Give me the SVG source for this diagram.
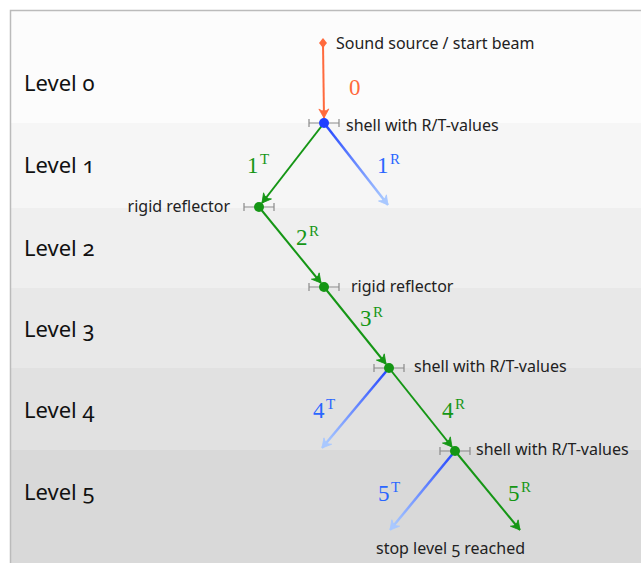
<svg xmlns="http://www.w3.org/2000/svg" width="641" height="563" viewBox="0 0 641 563">
<style>
.lvl{font-family:"Noto Sans","Open Sans",sans-serif;font-size:22px;fill:#111;font-variant-numeric:oldstyle-nums;}
.ann{font-family:"Noto Sans","Open Sans",sans-serif;font-size:16px;fill:#222;font-variant-numeric:oldstyle-nums;}
.num{font-family:"Liberation Serif","DejaVu Serif",serif;font-size:23px;}
.sup{font-family:"Liberation Serif","DejaVu Serif",serif;font-size:15px;}
.g{fill:#159615;}
.b{fill:#2a66ff;}
.o{fill:#ff6a3d;}
.bar{stroke:#8a8a8a;stroke-width:1.2;fill:none;}
.gl{stroke:#159615;stroke-width:2;fill:none;}
</style>
<defs>
<marker id="ag" viewBox="-10 -6 12 12" refX="0" refY="0" markerWidth="12" markerHeight="12" markerUnits="userSpaceOnUse" orient="auto">
<path d="M0,0 L-9,-5 Q-5,0 -9,5 Z" fill="#159615" stroke="#159615" stroke-width="0.8" stroke-linejoin="round"/>
</marker>
<marker id="ab" viewBox="-10 -6 12 12" refX="0" refY="0" markerWidth="12" markerHeight="12" markerUnits="userSpaceOnUse" orient="auto">
<path d="M0,0 L-9,-5 Q-5,0 -9,5 Z" fill="#a9c8ff" stroke="#a9c8ff" stroke-width="0.8" stroke-linejoin="round"/>
</marker>
<marker id="ao" viewBox="-10 -6 12 12" refX="0" refY="0" markerWidth="12" markerHeight="12" markerUnits="userSpaceOnUse" orient="auto">
<path d="M0,0 L-9,-5 Q-5,0 -9,5 Z" fill="#ff6a3d" stroke="#ff6a3d" stroke-width="0.8" stroke-linejoin="round"/>
</marker>
<linearGradient id="gb1" gradientUnits="userSpaceOnUse" x1="324" y1="123" x2="388" y2="205"><stop offset="0" stop-color="#2244ff"/><stop offset="1" stop-color="#b0d0ff"/></linearGradient>
<linearGradient id="gb4" gradientUnits="userSpaceOnUse" x1="389" y1="368" x2="322" y2="448"><stop offset="0" stop-color="#2244ff"/><stop offset="1" stop-color="#b0d0ff"/></linearGradient>
<linearGradient id="gb5" gradientUnits="userSpaceOnUse" x1="455" y1="451" x2="390" y2="530"><stop offset="0" stop-color="#2244ff"/><stop offset="1" stop-color="#b0d0ff"/></linearGradient>
</defs>
<rect width="641" height="563" fill="#ffffff"/>
<g id="bands">
<rect x="10" y="10" width="640" height="113" fill="#fcfcfc"/>
<rect x="10" y="123" width="640" height="85" fill="#f6f6f6"/>
<rect x="10" y="208" width="640" height="80" fill="#efefef"/>
<rect x="10" y="288" width="640" height="80" fill="#e8e8e8"/>
<rect x="10" y="368" width="640" height="82" fill="#e1e1e1"/>
<rect x="10" y="450" width="640" height="120" fill="#d9d9d9"/>
<path d="M10.5,570 V10.5 H650" fill="none" stroke="#bbbbbb" stroke-width="1.5"/>
</g>
<g id="levels">
<text class="lvl" x="24" y="91">Level 0</text>
<text class="lvl" x="24" y="173">Level 1</text>
<text class="lvl" x="24" y="256">Level 2</text>
<text class="lvl" x="24" y="337">Level 3</text>
<text class="lvl" x="24" y="418">Level 4</text>
<text class="lvl" x="24" y="500">Level 5</text>
</g>
<g id="connectors">
<line x1="323" y1="43" x2="324" y2="118" stroke="#ff6a3d" stroke-width="2" marker-end="url(#ao)"/>
<line x1="324" y1="123" x2="262" y2="203" class="gl" marker-end="url(#ag)"/>
<line x1="324" y1="123" x2="388" y2="205" stroke="url(#gb1)" stroke-width="2.5" marker-end="url(#ab)"/>
<line x1="259" y1="207" x2="321" y2="283" class="gl" marker-end="url(#ag)"/>
<line x1="324" y1="287" x2="386" y2="364" class="gl" marker-end="url(#ag)"/>
<line x1="389" y1="368" x2="452" y2="447" class="gl" marker-end="url(#ag)"/>
<line x1="389" y1="368" x2="322" y2="448" stroke="url(#gb4)" stroke-width="2.5" marker-end="url(#ab)"/>
<line x1="455" y1="451" x2="520" y2="530" class="gl" marker-end="url(#ag)"/>
<line x1="455" y1="451" x2="390" y2="530" stroke="url(#gb5)" stroke-width="2.5" marker-end="url(#ab)"/>
</g>
<g id="source">
<path d="M323,38 L327,43 L323,48 L319,43 Z" fill="#ff6a3d"/>
<text class="ann" x="336" y="49">Sound source / start beam</text>
<text class="num o" x="349" y="95">0</text>
</g>
<g id="node0">
<path class="bar" d="M309,123 H339 M309,119 V127 M339,119 V127"/>
<circle cx="324" cy="123" r="5" fill="#1f3fff"/>
<text class="ann" x="346" y="131">shell with R/T-values</text>
</g>
<g id="node1">
<path class="bar" d="M244,207 H274 M244,203 V211 M274,203 V211"/>
<circle cx="259" cy="207" r="5" fill="#159615"/>
<text class="ann" x="230" y="212" text-anchor="end">rigid reflector</text>
</g>
<g id="node2">
<path class="bar" d="M309,287 H339 M309,283 V291 M339,283 V291"/>
<circle cx="324" cy="287" r="5" fill="#159615"/>
<text class="ann" x="351" y="292">rigid reflector</text>
</g>
<g id="node3">
<path class="bar" d="M374,368 H404 M374,364 V372 M404,364 V372"/>
<circle cx="389" cy="368" r="5" fill="#159615"/>
<text class="ann" x="414" y="372">shell with R/T-values</text>
</g>
<g id="node4">
<path class="bar" d="M440,451 H470 M440,447 V455 M470,447 V455"/>
<circle cx="455" cy="451" r="5" fill="#159615"/>
<text class="ann" x="476" y="455">shell with R/T-values</text>
</g>
<g id="end">
<text class="ann" x="376" y="554">stop level 5 reached</text>
</g>
<g id="labels">
<text class="num g" x="247" y="173">1</text><text class="sup g" x="260" y="164">T</text>
<text class="num b" x="377" y="173">1</text><text class="sup b" x="390" y="164">R</text>
<text class="num g" x="296" y="245">2</text><text class="sup g" x="309" y="236">R</text>
<text class="num g" x="360" y="326">3</text><text class="sup g" x="373" y="317">R</text>
<text class="num b" x="313" y="418">4</text><text class="sup b" x="326" y="409">T</text>
<text class="num g" x="442" y="418">4</text><text class="sup g" x="455" y="409">R</text>
<text class="num b" x="378" y="501">5</text><text class="sup b" x="391" y="492">T</text>
<text class="num g" x="508" y="501">5</text><text class="sup g" x="521" y="492">R</text>
</g>
</svg>
